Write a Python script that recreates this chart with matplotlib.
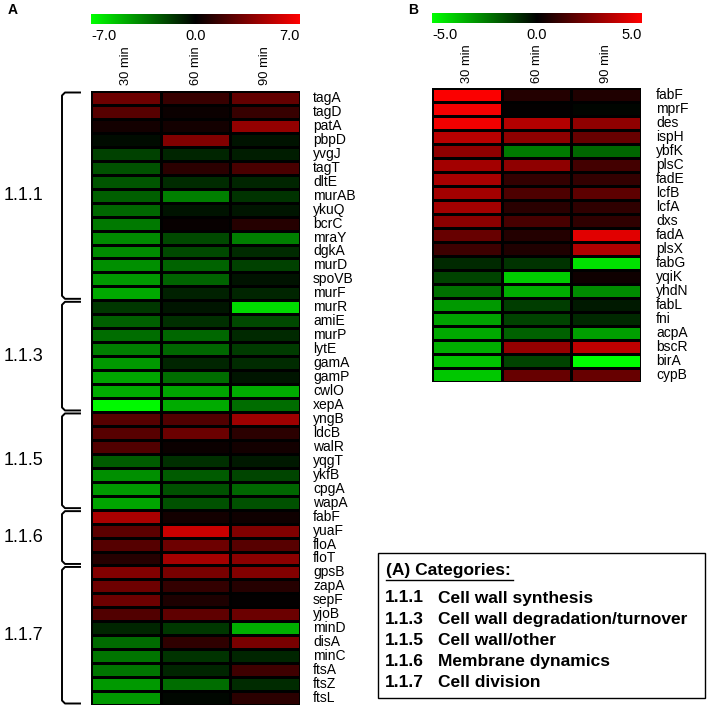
import numpy as np
import matplotlib
matplotlib.use("Agg")
import matplotlib.pyplot as plt
from matplotlib.colors import LinearSegmentedColormap
from matplotlib.lines import Line2D
from matplotlib import font_manager

plt.rcParams['font.family'] = ['Liberation Sans', 'DejaVu Sans']
_names = {f.name for f in font_manager.fontManager.ttflist}
GENE_FONT = ['Liberation Sans Narrow', 'Liberation Sans'] if 'Liberation Sans Narrow' in _names else ['Liberation Sans']

time_labels = ["30 min", "60 min", "90 min"]

genes_a = ["tagA", "tagD", "patA", "pbpD", "yvgJ", "tagT", "dltE", "murAB", "ykuQ", "bcrC",
           "mraY", "dgkA", "murD", "spoVB", "murF",
           "murR", "amiE", "murP", "lytE", "gamA", "gamP", "cwlO", "xepA",
           "yngB", "ldcB", "walR", "yqgT", "ykfB", "cpgA", "wapA",
           "fabF", "yuaF", "floA", "floT",
           "gpsB", "zapA", "sepF", "yjoB", "minD", "disA", "minC", "ftsA", "ftsZ", "ftsL"]
vals_a_30 = [3.0, 2.4, 0.5, -0.3, -1.8, -2.2, -2.3, -2.6, -2.8, -3.3, -3.8, -3.8, -3.9, -4.2, -4.6,
             -1.5, -2.6, -3.0, -3.5, -4.2, -4.5, -4.7, -6.8,
             2.4, 2.4, 2.2, -2.5, -3.9, -4.2, -4.5,
             4.6, 2.5, 2.3, 1.0,
             3.6, 3.0, 3.0, 2.2, -1.0, -2.9, -3.2, -3.2, -4.2, -4.2]
vals_a_60 = [1.5, 0.3, 0.5, 3.5, -1.0, 1.2, -1.2, -3.5, -0.5, 0.2, -2.0, -2.0, -2.7, -2.7, -0.9,
             -0.6, -1.3, -2.8, -2.8, -1.0, -3.0, -4.5, -4.7,
             2.2, 2.9, 0.3, -1.3, -2.5, -2.2, -2.2,
             0.5, 5.5, 3.0, 4.5,
             3.3, 1.4, 0.8, 2.6, -1.5, 1.3, -1.4, -1.0, -3.0, -0.2]
vals_a_90 = [2.7, 1.5, 4.0, -0.5, -0.8, 2.0, -1.0, -1.4, -0.6, 1.0, -3.5, -1.2, -1.8, -0.5, -1.0,
             -6.0, -2.0, -1.1, -1.6, -1.2, -0.6, -4.7, -3.0,
             4.3, 1.2, 0.5, -0.7, -1.9, -2.8, -2.2,
             0.4, 3.5, 2.4, 3.8,
             3.6, 1.0, 0.1, 2.9, -4.8, 3.3, -1.0, 1.7, -1.2, 1.2]
groups_a = ["1.1.1", "1.1.3", "1.1.5", "1.1.6", "1.1.7"]
group_sizes_a = [15, 8, 7, 4, 10]

genes_b = ["fabF", "mprF", "des", "ispH", "ybfK", "plsC", "fadE", "lcfB", "lcfA", "dxs",
           "fadA", "plsX", "fabG", "yqiK", "yhdN", "fabL", "fni", "acpA", "bscR", "birA", "cypB"]
vals_b_30 = [4.9, 4.8, 4.7, 3.6, 2.8, 3.2, 3.3, 3.2, 3.2, 2.7, 2.0, 1.2, -0.8, -1.3, -2.2,
             -3.0, -3.2, -3.3, -3.4, -3.8, -3.9]
vals_b_60 = [0.7, 0.05, 3.5, 2.8, -2.4, 2.8, 1.0, 1.5, 0.8, 1.4, 0.7, 0.6, -1.0, -4.0, -3.4,
             -1.2, -1.3, -1.9, 2.9, -1.3, 2.0]
vals_b_90 = [0.6, -0.1, 2.8, 2.0, -2.0, 1.3, 1.0, 1.8, 0.9, 0.9, 4.4, 3.4, -4.4, 0.3, -2.7,
             -0.5, -0.8, -3.1, 3.7, -5.0, 2.0]

legend_codes = ["1.1.1", "1.1.3", "1.1.5", "1.1.6", "1.1.7"]
legend_names = ["Cell wall synthesis", "Cell wall degradation/turnover", "Cell wall/other",
                "Membrane dynamics", "Cell division"]

cmap = LinearSegmentedColormap.from_list("gkr", [(0, 1, 0), (0, 0, 0), (1, 0, 0)])

W = H = 710.0
fig = plt.figure(figsize=(7.1, 7.1), dpi=100)


def fax(x0, y0, x1, y1):
    return fig.add_axes([x0 / W, 1 - y1 / H, (x1 - x0) / W, (y1 - y0) / H])


def heat(x0, y0, x1, y1, data, vmax, genes, label_x):
    ax = fax(x0, y0, x1, y1)
    arr = np.array(data).T
    ax.pcolormesh(arr, cmap=cmap, vmin=-vmax, vmax=vmax, edgecolors='black', linewidth=0.9)
    ax.set_xlim(0, 3)
    ax.set_ylim(len(genes), 0)
    ax.set_axis_off()
    rh = (y1 - y0) / len(genes)
    for i, g in enumerate(genes):
        fig.text(label_x / W, 1 - (y0 + (i + 0.5) * rh) / H, g, fontsize=10,
                 family=GENE_FONT, ha='left', va='center')
    return ax


def cbar(x0, y0, x1, y1, vmax, label_y):
    ax = fax(x0, y0, x1, y1)
    ax.imshow(np.linspace(-vmax, vmax, 256)[None, :], cmap=cmap, aspect='auto',
              vmin=-vmax, vmax=vmax)
    ax.set_axis_off()
    fs = 10.5
    fig.text(x0 / W, 1 - label_y / H, f"-{vmax:.1f}", fontsize=fs, ha='left', va='center')
    fig.text((x0 + x1) / 2 / W, 1 - label_y / H, "0.0", fontsize=fs, ha='center', va='center')
    fig.text(x1 / W, 1 - label_y / H, f"{vmax:.1f}", fontsize=fs, ha='right', va='center')


def col_labels(x0, x1, y_bottom):
    cw = (x1 - x0) / 3
    for j, t in enumerate(time_labels):
        fig.text((x0 + (j + 0.5) * cw) / W, 1 - y_bottom / H, t, fontsize=9.3,
                 rotation=90, ha='center', va='bottom')


# Panel A
heat(91, 91, 300, 705, [vals_a_30, vals_a_60, vals_a_90], 7.0, genes_a, 313)
cbar(91, 14, 300, 24, 7.0, 36.5)
col_labels(91, 300, 85)
fig.text(8 / W, 1 - 10 / H, "A", fontsize=10, fontweight='bold', ha='left', va='center')

# Panel B
heat(432, 88, 641, 382, [vals_b_30, vals_b_60, vals_b_90], 5.0, genes_b, 656)
cbar(432, 13, 642, 23, 5.0, 35)
col_labels(432, 641, 83)
fig.text(408 / W, 1 - 10 / H, "B", fontsize=10, fontweight='bold', ha='left', va='center')

# Group brackets for panel A
rh = (705 - 91) / len(genes_a)
start = 0
for name, n in zip(groups_a, group_sizes_a):
    top = 91 + start * rh + 1.5
    bot = 91 + (start + n) * rh - 1.5
    xs = np.array([80, 65, 62, 62, 65, 80])
    ys = np.array([top, top, top + 3, bot - 3, bot, bot])
    fig.add_artist(Line2D(xs / W, 1 - ys / H, color='black', lw=1.4,
                          solid_joinstyle='round'))
    fig.text(4 / W, 1 - ((top + bot) / 2) / H, name, fontsize=13, ha='left', va='center')
    start += n

# Legend box
lx0, ly0, lx1, ly1 = 378, 553, 705, 698
fig.add_artist(plt.Rectangle((lx0 / W, 1 - ly1 / H), (lx1 - lx0) / W, (ly1 - ly0) / H,
                             fill=False, edgecolor='black', lw=1.0))
fig.text(386 / W, 1 - 571 / H, "(A) Categories:", fontsize=12.5, fontweight='bold',
         ha='left', va='center')
fig.add_artist(Line2D([386 / W, 513 / W], [1 - 579.5 / H, 1 - 579.5 / H], color='black', lw=1.0))
for i, (c, nme) in enumerate(zip(legend_codes, legend_names)):
    y = 598 + i * 21.2
    fig.text(385 / W, 1 - y / H, c, fontsize=12.5, fontweight='bold', ha='left', va='center')
    fig.text(438 / W, 1 - y / H, nme, fontsize=12.5, fontweight='bold', ha='left', va='center')

fig.savefig("out.png", dpi=100, facecolor='white')
